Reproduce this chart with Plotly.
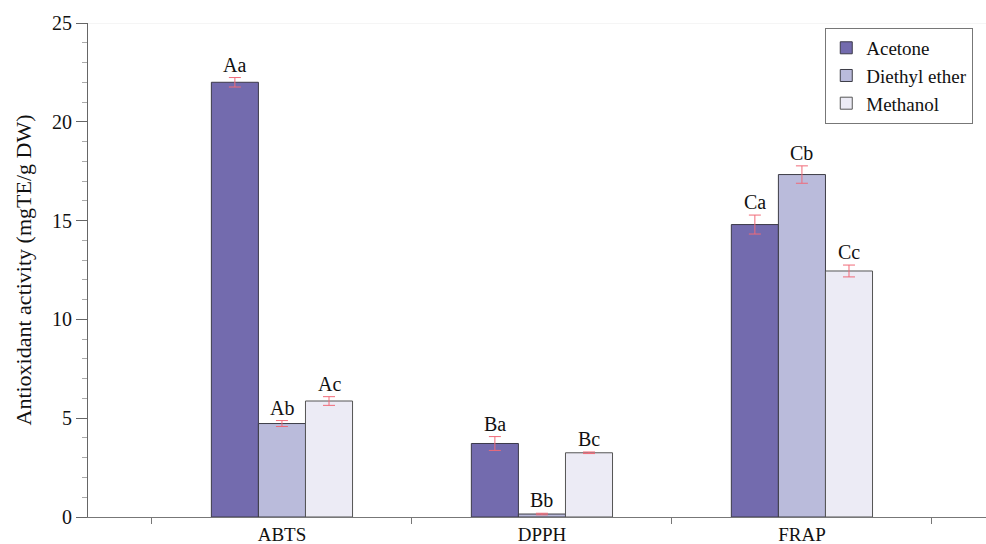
import plotly.graph_objects as go

# Antioxidant assays and extraction solvents
assays = ["ABTS", "DPPH", "FRAP"]
solvents = ["Acetone", "Diethyl ether", "Methanol"]

acetone = [22.0, 3.72, 14.8]
diethyl_ether = [4.73, 0.15, 17.33]
methanol = [5.87, 3.25, 12.45]

acetone_err = [0.24, 0.35, 0.48]
diethyl_ether_err = [0.15, 0.04, 0.44]
methanol_err = [0.22, 0.04, 0.30]

acetone_labels = ["Aa", "Ba", "Ca"]
diethyl_ether_labels = ["Ab", "Bb", "Cb"]
methanol_labels = ["Ac", "Bc", "Cc"]

values = [acetone, diethyl_ether, methanol]
errors = [acetone_err, diethyl_ether_err, methanol_err]
labels = [acetone_labels, diethyl_ether_labels, methanol_labels]
fills = ["#736BAE", "#BABBDB", "#ECEBF5"]
outlines = ["#3c3a4a", "#3c3c46", "#555555"]

FONT = "Liberation Serif"
W, H = 986, 544
M = dict(l=88, r=0, t=23, b=27)
X_RANGE = [-0.746, 2.708]
BARGAP = 0.457

fig = go.Figure()
for name, vals, err, fill, edge in zip(solvents, values, errors, fills, outlines):
    fig.add_trace(go.Bar(
        name=name, x=assays, y=vals,
        marker=dict(color=fill, line=dict(color=edge, width=1)),
        error_y=dict(type="data", array=err, visible=True,
                     color="#F06A78", thickness=1, width=6),
    ))

# letter labels above each error bar, shifted to the bar within its group
px_per_cat = (W - M["l"] - M["r"]) / (X_RANGE[1] - X_RANGE[0])
bar_px = px_per_cat * (1 - BARGAP) / len(solvents)
for k, (vals, err, labs) in enumerate(zip(values, errors, labels)):
    for a, v, e, t in zip(assays, vals, err, labs):
        fig.add_annotation(
            x=a, y=v + e, xref="x", yref="y", text=t, showarrow=False,
            xshift=(k - 1) * bar_px, yshift=0, yanchor="bottom",
            font=dict(family=FONT, size=20, color="#111"),
        )

# faint top border of the plotting area
fig.add_shape(type="line", xref="paper", yref="y", x0=0, x1=1, y0=25, y1=25,
              line=dict(color="#ececec", width=1))

fig.update_layout(
    width=W, height=H, margin=M,
    paper_bgcolor="white", plot_bgcolor="white",
    barmode="group", bargap=BARGAP, bargroupgap=0,
    font=dict(family=FONT, color="#111"),
    legend=dict(
        x=0.821, y=0.99, xanchor="left", yanchor="top",
        bordercolor="#777", borderwidth=1, bgcolor="white",
        font=dict(family=FONT, size=19, color="#111"),
        itemwidth=30, tracegroupgap=0,
    ),
    xaxis=dict(
        type="category", range=X_RANGE, tickson="boundaries", automargin=False,
        ticks="outside", ticklen=6, tickcolor="#777",
        showline=True, linecolor="#777", linewidth=1.2,
        showgrid=False, zeroline=False,
        tickfont=dict(family=FONT, size=19, color="#111"),
    ),
    yaxis=dict(
        range=[0, 25], dtick=5, tick0=0, automargin=False,
        ticks="outside", ticklen=11, tickcolor="#666",
        minor=dict(dtick=1, ticks="outside", ticklen=5, tickcolor="#aaa"),
        showline=True, linecolor="#666", linewidth=1.2,
        showgrid=False, zeroline=False,
        tickfont=dict(family=FONT, size=20, color="#111"),
        title=dict(text="Antioxidant activity (mgTE/g DW)",
                   font=dict(family=FONT, size=22, color="#111"), standoff=14),
    ),
)

fig.write_html("out.html")
